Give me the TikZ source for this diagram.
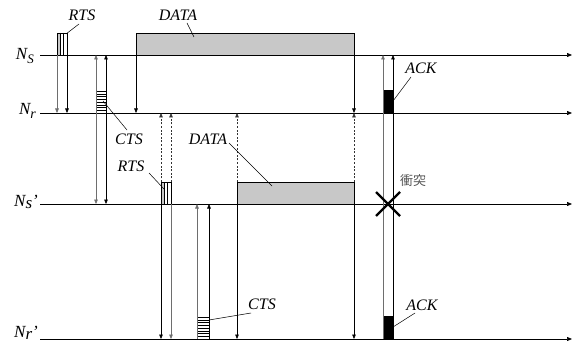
\documentclass[tikz,border=0pt]{standalone}
\usepackage{fontspec}
\setmainfont{Liberation Serif}
\newfontfamily\cjk{Noto Sans CJK JP}
\usetikzlibrary{arrows.meta}
\definecolor{datagray}{RGB}{200,200,200}
\definecolor{linegray}{RGB}{110,110,110}
\definecolor{textgray}{RGB}{85,85,85}
\tikzset{
  tipA/.style={-{Triangle[length=4.5pt,width=3.6pt]}},
  sig/.style={draw=black, line width=0.6pt, tipA},
  gsig/.style={sig, draw=linegray},
  dsig/.style={sig, draw=black!80, dash pattern=on 2pt off 1.6pt},
  axis/.style={draw=black, line width=0.7pt, -{Triangle[length=5pt,width=4pt]}},
  lbl/.style={font=\itshape\fontsize{16}{16}\selectfont, inner sep=0pt},
  nlbl/.style={font=\itshape\fontsize{17}{17}\selectfont, inner sep=0pt, anchor=east},
  lead/.style={draw=black, line width=0.5pt},
  boxline/.style={draw=black, line width=0.5pt},
}
\begin{document}
\begin{tikzpicture}[x=1pt,y=-1pt]
\useasboundingbox (0,0) rectangle (573,350);
% time axes
\foreach \y/\n in {55/s,113/r,204/sp,339/rp}
  \draw[axis] (40,\y) coordinate (a\n) -- (572,\y) coordinate (e\n);
% axis labels
\node[nlbl] (ls)  at (34,56)  {N\raisebox{-4pt}{\itshape\fontsize{13}{13}\selectfont S}};
\node[nlbl] (lr)  at (36,111) {N\raisebox{-4pt}{\itshape\fontsize{14}{14}\selectfont r}};
\node[nlbl] (lsp) at (38,202) {N\raisebox{-1.5pt}{s}'};
\node[nlbl] (lrp) at (38,333) {N\raisebox{-1.5pt}{r}'};

% DATA boxes
\draw[boxline, fill=datagray] (136,33) rectangle (354,55);
\draw[boxline, fill=datagray] (237,182) rectangle (354,204);

% RTS box at Ns
\fill[datagray] (57,33) rectangle (60.5,55);
\draw[boxline] (57,33) rectangle (67,55);
\draw[boxline] (60.5,33) -- (60.5,55) (63.5,33) -- (63.5,55);
% RTS box at Ns'
\fill[datagray] (161,182) rectangle (164.5,204);
\draw[boxline] (161,182) rectangle (171,204);
\draw[boxline] (164.5,182) -- (164.5,204) (167.5,182) -- (167.5,204);
% CTS box at Nr
\draw[boxline] (96,91) rectangle (106,113);
\foreach \k in {1,...,7} \draw[boxline, line width=0.4pt] (96,91+\k*2.75) -- (106,91+\k*2.75);
% CTS box at Nr'
\draw[boxline] (197,317) rectangle (209,339);
\foreach \k in {1,...,7} \draw[boxline, line width=0.4pt] (197,317+\k*2.75) -- (209,317+\k*2.75);
% ACK boxes
\fill[black] (383,90) rectangle (393,113);
\fill[black] (383,316) rectangle (393,339);

% RTS from Ns
\draw[gsig] (57,55) -- (57,113);
\draw[sig]  (67,55) -- (67,113);
% CTS from Nr
\draw[gsig] (96,113) -- (96,55);
\draw[sig]  (106,113) -- (106,55);
\draw[gsig] (96,113) -- (96,204);
\draw[sig]  (106,113) -- (106,204);
% DATA from Ns
\draw[sig] (136,55) -- (136,113);
\draw[sig] (354,55) -- (354,113);
% RTS from Ns'
\draw[dsig] (161,182) -- (161,113);
\draw[dsig] (171,182) -- (171,113);
\draw[sig]  (161,204) -- (161,339);
\draw[gsig] (171,204) -- (171,339);
% DATA from Ns'
\draw[dsig] (237,182) -- (237,113);
\draw[dsig] (354,182) -- (354,113);
\draw[sig]  (237,204) -- (237,339);
\draw[sig]  (354,204) -- (354,339);
% CTS from Nr'
\draw[gsig] (197,339) -- (197,204);
\draw[sig]  (209,339) -- (209,204);
% ACK from Nr'
\draw[gsig] (383,339) -- (383,55);
\draw[sig]  (393,339) -- (393,55);

% collision
\draw[line width=2.3pt] (376,192) -- (400,216) (376,216) -- (400,192);
\node[inner sep=0pt, text=textgray, font=\cjk\fontsize{13}{13}\selectfont] (coll) at (413,181) {衝突};

% labels and leaders
\node[lbl] (trts) at (82,15) {RTS};
\draw[lead] (79,24) -- (66,34);
\node[lbl] (tdata) at (178,15) {DATA};
\draw[lead] (187,23) -- (194,37);
\node[lbl] (tcts) at (129,139) {CTS};
\draw[lead] (127,130) -- (103,101);
\node[lbl] (trts2) at (131,166) {RTS};
\draw[lead] (149,173) -- (164,189);
\node[lbl] (tdata2) at (208,139) {DATA};
\draw[lead] (229,143) -- (272,186);
\node[lbl] (tack) at (421,68) {ACK};
\draw[lead] (411,77) -- (393,101);
\node[lbl] (tack2) at (422,305) {ACK};
\draw[lead] (415,313) -- (393,327);
\node[lbl] (tcts2) at (262,304) {CTS};
\draw[lead] (251,313) -- (209,320);
\end{tikzpicture}
\end{document}
